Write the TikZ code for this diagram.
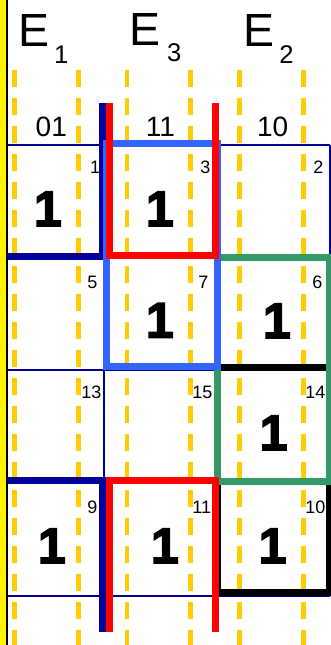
\documentclass[tikz,border=0pt]{standalone}
\usepackage{fontspec}
\setmainfont{Liberation Sans}
\newfontfamily\heavyfont[FakeBold=3]{Liberation Sans Bold}
\definecolor{gold}{HTML}{FFCC00}
\definecolor{navyc}{HTML}{000099}
\definecolor{lblue}{HTML}{3366FF}
\definecolor{kgreen}{HTML}{339966}
\begin{document}
\begin{tikzpicture}[x=1pt,y=-1pt,
  kgrid/.style={navyc, line width=2.5pt},
  kdash/.style={gold, line width=4.5pt, dash pattern=on 17pt off 11pt},
  grp/.style={line width=7pt, line cap=butt, line join=miter},
  bigone/.style={font=\fontsize{50}{50}\heavyfont, anchor=base, inner sep=0pt},
  cellnum/.style={font=\fontsize{18}{18}\selectfont, anchor=base east, inner sep=0pt},
  hdr/.style={font=\fontsize{28}{28}\selectfont, anchor=base, inner sep=0pt},
  bigE/.style={font=\fontsize{46.5}{46.5}\selectfont, anchor=base west, inner sep=0pt},
  subE/.style={font=\fontsize{25.6}{25.6}\selectfont, anchor=base west, inner sep=0pt}]
\useasboundingbox (0,0) rectangle (331,645);
\fill[white] (0,0) rectangle (331,645);
% dashed guide lines
\foreach \x in {14.5,78.3,127,190.5,239.5,303.5}
  \draw[kdash] (\x,70) -- (\x,645);
% thin grid
\draw[kgrid] (7,145) -- (330,145);
\foreach \y in {257.5,370,483,596}
  \draw[kgrid] (7,\y) -- (330,\y);
\foreach \x in {104,217,330}
  \draw[kgrid] (\x,145) -- (\x,596);
% left band
\fill[yellow] (0,0) rectangle (6,645);
\draw[black, line width=2pt] (7,0) -- (7,645);
% labels
\node[bigE] (e1) at (18.1,46.7) {E};
\node[subE] (e1s) at (53.9,63.3) {1};
\node[bigE] (e3) at (129.7,45) {E};
\node[subE] (e3s) at (166.9,61.7) {3};
\node[bigE] (e2) at (243.1,46.7) {E};
\node[subE] (e2s) at (279.2,63.3) {2};
\node[hdr] (h01) at (51.3,136.7) {01};
\node[hdr] (h11) at (160.3,136.7) {11};
\node[hdr] (h10) at (272.6,136.7) {10};
% cell numbers
\node[cellnum] (n1) at (100.3,173) {1};
\node[cellnum] (n3) at (210.7,173) {3};
\node[cellnum] (n2) at (323.7,173) {2};
\node[cellnum] (n5) at (97.7,288.3) {5};
\node[cellnum] (n7) at (208.5,288.3) {7};
\node[cellnum] (n6) at (322.7,288.3) {6};
\node[cellnum] (n13) at (101.7,398.3) {13};
\node[cellnum] (n15) at (212.7,398.3) {15};
\node[cellnum] (n14) at (325.5,398.3) {14};
\node[cellnum] (n9) at (97.7,513.3) {9};
\node[cellnum] (n11) at (211.3,513.3) {11};
\node[cellnum] (n10) at (325.7,513.3) {10};
% big ones
\node[bigone] (v1) at (47.8,226) {1};
\node[bigone] (v3) at (159.8,226) {1};
\node[bigone] (v7) at (159.8,337.5) {1};
\node[bigone] (v6) at (276.8,338) {1};
\node[bigone] (v14) at (273.5,450) {1};
\node[bigone] (v9) at (51.8,563) {1};
\node[bigone] (v11) at (164.8,563) {1};
\node[bigone] (v10) at (272.6,563) {1};
% groups
\draw[grp, black] (217,367) rectangle (329,592);
\draw[grp, kgreen] (217,257.5) rectangle (329,481);
\draw[grp, navyc] (7,256) -- (102.5,256) -- (102.5,103);
\draw[grp, navyc] (7,480.5) -- (102.5,480.5) -- (102.5,632);
\draw[grp, lblue] (106.8,143) rectangle (217.3,366.5);
\draw[grp, red] (109.4,103) -- (109.4,255.5) -- (215.4,255.5) -- (215.4,103);
\draw[grp, red] (109.4,632) -- (109.4,480.5) -- (215.4,480.5) -- (215.4,632);
\end{tikzpicture}
\end{document}
